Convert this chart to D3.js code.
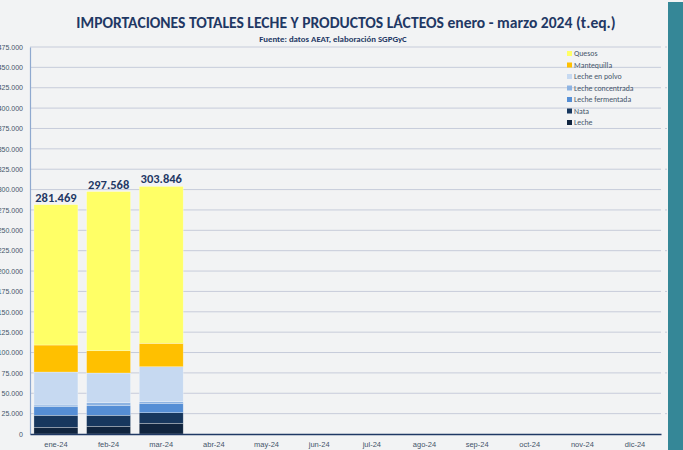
<!DOCTYPE html>
<html>
<head>
<meta charset="utf-8">
<script src="https://cdn.jsdelivr.net/npm/d3@7"></script>
<style>
  html, body { margin: 0; padding: 0; background: #f2f3f4; }
  svg { display: block; font-family: Calibri, Carlito, 'Liberation Sans', 'Open Sans', sans-serif; }
</style>
</head>
<body>
<script>
// data (toneladas equivalentes)
var months = ['ene-24', 'feb-24', 'mar-24', 'abr-24', 'may-24', 'jun-24',
              'jul-24', 'ago-24', 'sep-24', 'oct-24', 'nov-24', 'dic-24']
var products = ['Leche', 'Nata', 'Leche fermentada', 'Leche concentrada',
                'Leche en polvo', 'Mantequilla', 'Quesos']
var leche        = [8200, 9450, 13130]
var nata         = [14750, 13500, 13000]
var fermentada   = [10550, 11770, 11540]
var concentrada  = [2080, 3690, 1960]
var polvo        = [40490, 36450, 42950]
var mantequilla  = [33130, 27350, 28710]
var quesos       = [172269, 195358, 192556]
var totals       = [281469, 297568, 303846]
var yTicks = d3.range(0, 475001, 25000)

var colors = {
  'Leche': '#10243e',
  'Nata': '#17375e',
  'Leche fermentada': '#558ed5',
  'Leche concentrada': '#8db3e2',
  'Leche en polvo': '#c6d9f1',
  'Mantequilla': '#ffc000',
  'Quesos': '#ffff66'
}

var w = 683, h = 450
var plotLeft = 30, plotRight = 661, plotTop = 47, plotBottom = 434

var rows = totals.map(function(t, i) {
  return {
    month: months[i], total: t,
    'Leche': leche[i], 'Nata': nata[i], 'Leche fermentada': fermentada[i],
    'Leche concentrada': concentrada[i], 'Leche en polvo': polvo[i],
    'Mantequilla': mantequilla[i], 'Quesos': quesos[i]
  }
})

var svg = d3.select('body').append('svg')
    .attr('width', w)
    .attr('height', h)

svg.append('rect').attr('width', w).attr('height', h).attr('fill', '#f2f3f4')

// teal strip on the right
svg.append('rect')
    .attr('x', 668).attr('y', 2)
    .attr('width', 15).attr('height', h)
    .attr('fill', '#358797')

var x = d3.scaleBand().domain(months).range([plotLeft, plotRight])
    .paddingInner(0.165).paddingOuter(0.075)
var y = d3.scaleLinear().domain([0, 475000]).range([plotBottom, plotTop])

// grid
svg.append('g').selectAll('line')
    .data(yTicks.slice(1))
    .enter().append('line')
    .attr('x1', plotLeft).attr('x2', plotRight)
    .attr('y1', function(d) { return y(d) })
    .attr('y2', function(d) { return y(d) })
    .attr('stroke', '#c7ccda')
    .attr('stroke-width', 1)

// small ticks beyond the grid on the right
svg.append('g').selectAll('line')
    .data(yTicks.filter(function(d, i) { return i % 2 == 1 }))
    .enter().append('line')
    .attr('x1', plotRight + 4).attr('x2', plotRight + 6)
    .attr('y1', function(d) { return y(d) })
    .attr('y2', function(d) { return y(d) })
    .attr('stroke', '#c7ccda')

// y axis (labels run past the left edge, as in the original)
var yAxis = svg.append('g')
    .attr('transform', 'translate(' + plotLeft + ',0)')
    .call(d3.axisLeft(y).tickValues(yTicks).tickSize(0).tickPadding(7)
      .tickFormat(function(d) { return d == 0 ? '0' : d3.format(',')(d).replace(/,/g, '.') }))
yAxis.select('.domain').attr('stroke', '#8fa9cf').attr('stroke-width', 1.2)
yAxis.selectAll('text').attr('fill', '#44546a').style('font-size', '7px')

// stacked bars
var stack = d3.stack().keys(products)(rows)

svg.append('g').selectAll('g')
    .data(stack)
    .enter().append('g')
    .attr('fill', function(d) { return colors[d.key] })
    .selectAll('rect')
    .data(function(d) { return d })
    .enter().append('rect')
    .attr('x', function(d) { return x(d.data.month) })
    .attr('width', x.bandwidth())
    .attr('y', function(d) { return y(d[1]) })
    .attr('height', function(d) { return y(d[0]) - y(d[1]) })
    .attr('stroke', 'rgba(255,255,255,0.45)')
    .attr('stroke-width', 0.6)

// totals above bars
svg.append('g').selectAll('text')
    .data(rows)
    .enter().append('text')
    .attr('x', function(d) { return x(d.month) + x.bandwidth() / 2 })
    .attr('y', function(d) { return y(d.total) - 3 })
    .attr('text-anchor', 'middle')
    .attr('fill', '#1f3864')
    .style('font-size', '12.5px')
    .style('font-weight', 'bold')
    .text(function(d) { return d3.format(',')(d.total).replace(/,/g, '.') })

// x axis
var xAxis = svg.append('g')
    .attr('transform', 'translate(0,' + plotBottom + ')')
    .call(d3.axisBottom(x).tickSize(0).tickPadding(8))
xAxis.select('.domain').attr('stroke', '#1f3864').attr('stroke-width', 1.5)
xAxis.selectAll('text').attr('fill', '#44546a').style('font-size', '7.5px')

// title
svg.append('text')
    .attr('x', 346).attr('y', 28)
    .attr('text-anchor', 'middle')
    .attr('fill', '#1f3864')
    .style('font-size', '15.6px')
    .style('font-weight', 'bold')
    .text('IMPORTACIONES TOTALES LECHE Y PRODUCTOS LÁCTEOS enero - marzo 2024 (t.eq.)')

svg.append('text')
    .attr('x', 333).attr('y', 42)
    .attr('text-anchor', 'middle')
    .attr('fill', '#1f3864')
    .style('font-size', '8.8px')
    .style('font-weight', 'bold')
    .text('Fuente: datos AEAT, elaboración SGPGyC')

// legend
var legendItems = products.slice().reverse()
var legend = svg.append('g').selectAll('g')
    .data(legendItems)
    .enter().append('g')
    .attr('transform', function(d, i) { return 'translate(567,' + (53.5 + i * 11.5) + ')' })
legend.append('rect')
    .attr('x', 0).attr('y', -2.5)
    .attr('width', 5).attr('height', 5)
    .attr('fill', function(d) { return colors[d] })
legend.append('text')
    .attr('x', 7).attr('y', 2.7)
    .attr('fill', '#44546a')
    .style('font-size', '7.8px')
    .text(function(d) { return d })
</script>
</body>
</html>
